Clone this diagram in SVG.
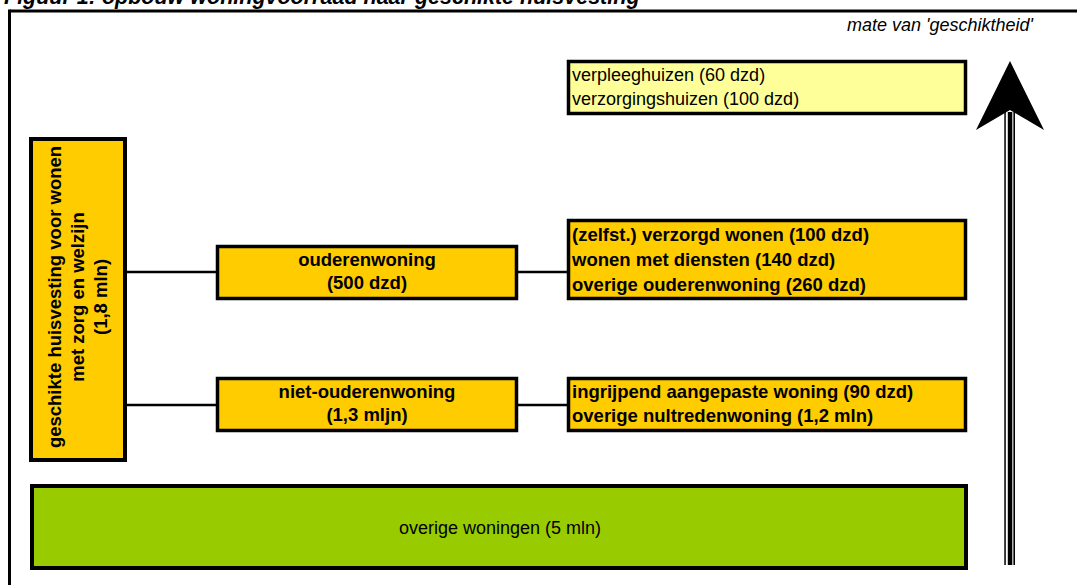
<svg xmlns="http://www.w3.org/2000/svg" width="1077" height="585" viewBox="0 0 1077 585">
<style>
.t{font-family:"Liberation Sans",Arial,sans-serif;font-size:18px;fill:#000}
.b{font-weight:bold;font-size:18.5px}
.c{text-anchor:middle}
.box{stroke:#000;stroke-width:3.5}
.gold{fill:#FFCC00}
.lt{fill:#FFFF99}
.gr{fill:#99CC00}
.con{stroke:#000;stroke-width:2.5;fill:none}
</style>
<rect width="1077" height="585" fill="#fff"/>
<text class="t b" x="4" y="4" style="font-style:italic;font-size:21.5px">Figuur 1: opbouw woningvoorraad naar geschikte huisvesting</text>
<g id="frame">
<line x1="9.5" y1="11" x2="1077" y2="11" stroke="#000" stroke-width="3"/>
<line x1="9.5" y1="9.5" x2="9.5" y2="585" stroke="#000" stroke-width="3"/>
</g>
<text class="t" x="1033" y="31" text-anchor="end" style="font-style:italic">mate van 'geschiktheid'</text>
<g id="connectors">
<line class="con" x1="127" y1="272" x2="216" y2="272"/>
<line class="con" x1="518" y1="272" x2="567" y2="272"/>
<line class="con" x1="127" y1="405" x2="216" y2="405"/>
<line class="con" x1="518" y1="405" x2="567" y2="405"/>
</g>
<g id="geschikt">
<rect class="box gold" x="31" y="139" width="94" height="321" style="stroke-width:4"/>
<text class="t b c" transform="translate(61,297) rotate(-90)">geschikte huisvesting voor wonen</text>
<text class="t b c" transform="translate(84,297) rotate(-90)">met zorg en welzijn</text>
<text class="t b c" transform="translate(107,297) rotate(-90)">(1,8 mln)</text>
</g>
<g id="ouderenwoning">
<rect class="box gold" x="217.5" y="246.5" width="299" height="52"/>
<text class="t b c" x="367" y="266">ouderenwoning</text>
<text class="t b c" x="367" y="289">(500 dzd)</text>
</g>
<g id="niet-ouderenwoning">
<rect class="box gold" x="217.5" y="378.5" width="299" height="52"/>
<text class="t b c" x="367" y="398">niet-ouderenwoning</text>
<text class="t b c" x="367" y="421">(1,3 mljn)</text>
</g>
<g id="verpleeg">
<rect class="box lt" x="568.5" y="61.5" width="397" height="52"/>
<text class="t" x="572" y="81">verpleeghuizen (60 dzd)</text>
<text class="t" x="572" y="105">verzorgingshuizen (100 dzd)</text>
</g>
<g id="ouderen-detail">
<rect class="box gold" x="568.5" y="220.5" width="397" height="78"/>
<text class="t b" x="572" y="241">(zelfst.) verzorgd wonen (100 dzd)</text>
<text class="t b" x="572" y="266">wonen met diensten (140 dzd)</text>
<text class="t b" x="572" y="291">overige ouderenwoning (260 dzd)</text>
</g>
<g id="niet-ouderen-detail">
<rect class="box gold" x="568.5" y="378.5" width="397" height="52"/>
<text class="t b" x="572" y="398">ingrijpend aangepaste woning (90 dzd)</text>
<text class="t b" x="572" y="422">overige nultredenwoning (1,2 mln)</text>
</g>
<g id="overige">
<rect class="box gr" x="32" y="486" width="934" height="82" style="stroke-width:4"/>
<text class="t c" x="500" y="534">overige woningen (5 mln)</text>
</g>
<g id="arrow">
<rect x="1004.3" y="112" width="1.5" height="453" fill="#000"/>
<rect x="1007.8" y="112" width="4.5" height="453" fill="#000"/>
<rect x="1013.4" y="112" width="1.6" height="453" fill="#000"/>
<polygon points="1010,61 1044,130 1010,110 976,130" fill="#000"/>
</g>
</svg>
